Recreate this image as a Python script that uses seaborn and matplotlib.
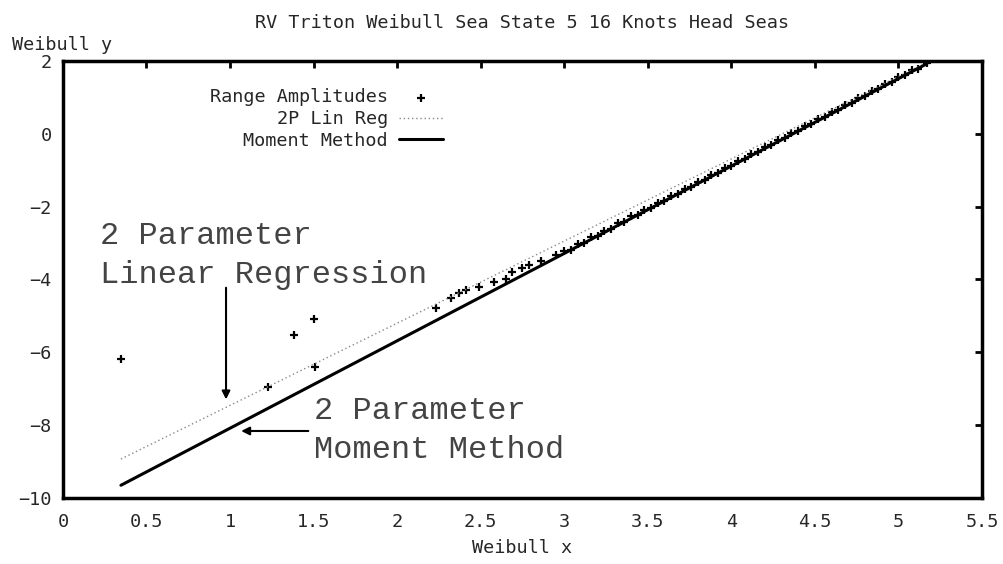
"""Weibull plot of RV Triton range amplitudes, sea state 5, 16 knots head seas."""
import matplotlib
matplotlib.use("Agg")
import matplotlib.pyplot as plt
import seaborn as sns
import pandas as pd

# Range amplitudes in Weibull coordinates
amp_x = [0.35, 1.23, 1.38, 1.50, 1.51,
         2.23, 2.32, 2.37, 2.41, 2.49, 2.58, 2.65, 2.69, 2.75, 2.79, 2.86, 2.95,
         3.00, 3.04, 3.08, 3.12, 3.16, 3.20, 3.24, 3.28, 3.32, 3.36,
         3.40, 3.44, 3.48, 3.52, 3.56, 3.60, 3.64, 3.68, 3.72, 3.76,
         3.80, 3.84, 3.88, 3.92, 3.96, 4.00, 4.04, 4.08, 4.12, 4.16,
         4.20, 4.24, 4.28, 4.32, 4.36, 4.40, 4.44, 4.48, 4.52, 4.56,
         4.60, 4.64, 4.68, 4.72, 4.76, 4.80, 4.84, 4.88, 4.92, 4.96,
         5.00, 5.04, 5.08, 5.12, 5.17]
amp_y = [-6.19, -6.95, -5.52, -5.08, -6.40,
         -4.79, -4.51, -4.37, -4.29, -4.20, -4.08, -4.00, -3.80, -3.69, -3.60, -3.50, -3.33,
         -3.22, -3.18, -3.03, -2.99, -2.84, -2.80, -2.66, -2.61, -2.46, -2.42,
         -2.26, -2.23, -2.08, -2.04, -1.89, -1.85, -1.70, -1.66, -1.51, -1.47,
         -1.32, -1.28, -1.13, -1.08, -0.94, -0.89, -0.75, -0.70, -0.55, -0.51,
         -0.36, -0.31, -0.17, -0.12, 0.03, 0.08, 0.22, 0.27, 0.41, 0.46,
         0.60, 0.65, 0.79, 0.84, 0.98, 1.03, 1.17, 1.22, 1.36, 1.41,
         1.55, 1.60, 1.74, 1.79, 1.93]

# fitted lines (end points)
linreg_x = [0.347, 5.17]
linreg_y = [-8.93, 1.95]
moment_x = [0.347, 5.17]
moment_y = [-9.65, 1.92]

sns.set_style("white")
plt.rcParams['font.family'] = ['DejaVu Sans Mono', 'DejaVu Sans']
FS = 13.3

fig = plt.figure(figsize=(10.04, 5.64), dpi=100)
ax = fig.add_axes([0.0627, 0.117, 0.9153, 0.775])

df_amp = pd.DataFrame({'x': amp_x, 'y': amp_y})
sns.lineplot(x=linreg_x, y=linreg_y, ax=ax, color='#888888', lw=1.0,
             linestyle=(0, (1, 2)), label='2P Lin Reg')
sns.lineplot(x=moment_x, y=moment_y, ax=ax, color='black', lw=2.2,
             label='Moment Method')
sns.scatterplot(data=df_amp, x='x', y='y', ax=ax, marker='+', s=30,
                color='black', linewidth=1.6, label='Range Amplitudes')

ax.set_xlim(0, 5.5)
ax.set_ylim(-10, 2)
ax.set_xticks([0, 0.5, 1, 1.5, 2, 2.5, 3, 3.5, 4, 4.5, 5, 5.5])
ax.set_xticklabels(['0', '0.5', '1', '1.5', '2', '2.5', '3', '3.5', '4', '4.5', '5', '5.5'])
ax.set_yticks([2, 0, -2, -4, -6, -8, -10])
ax.tick_params(direction='in', length=5, width=2, top=True, right=True,
               labelsize=FS, color='black')
ax.tick_params(axis='x', pad=11)
ax.tick_params(axis='y', pad=8)
for s in ax.spines.values():
    s.set_color('black')
    s.set_linewidth(2.5)

ax.set_xlabel('')
ax.set_ylabel('')
fig.text(0.52, 0.028, 'Weibull x', ha='center', va='center', fontsize=FS)
fig.text(0.012, 0.92, 'Weibull y', ha='left', va='center', fontsize=FS)
fig.text(0.52, 0.96, 'RV Triton Weibull Sea State 5 16 Knots Head Seas',
         ha='center', va='center', fontsize=FS)

# legend: labels right aligned, sample on the right
handles, labels = ax.get_legend_handles_labels()
order = [labels.index('Range Amplitudes'), labels.index('2P Lin Reg'),
         labels.index('Moment Method')]
leg = ax.legend([handles[i] for i in order], [labels[i] for i in order],
                loc='upper right', bbox_to_anchor=(0.422, 0.954), frameon=False,
                markerfirst=False, fontsize=FS, handlelength=2.4,
                labelspacing=0.2, handletextpad=0.6, borderaxespad=0)

# annotations
anno = dict(fontfamily='Liberation Mono', fontsize=23, color='#444444')
ax.text(0.22, -2.82, '2 Parameter', ha='left', va='center', **anno)
ax.text(0.22, -3.88, 'Linear Regression', ha='left', va='center', **anno)
ax.annotate('', xy=(0.976, -7.37), xytext=(0.976, -4.15),
            arrowprops=dict(arrowstyle='-|>', color='black', lw=1.5,
                            mutation_scale=12))
ax.text(1.5, -7.62, '2 Parameter', ha='left', va='center', **anno)
ax.text(1.5, -8.68, 'Moment Method', ha='left', va='center', **anno)
ax.annotate('', xy=(1.05, -8.16), xytext=(1.485, -8.16),
            arrowprops=dict(arrowstyle='-|>', color='black', lw=1.5,
                            mutation_scale=12))

fig.savefig('out.png', dpi=100)
